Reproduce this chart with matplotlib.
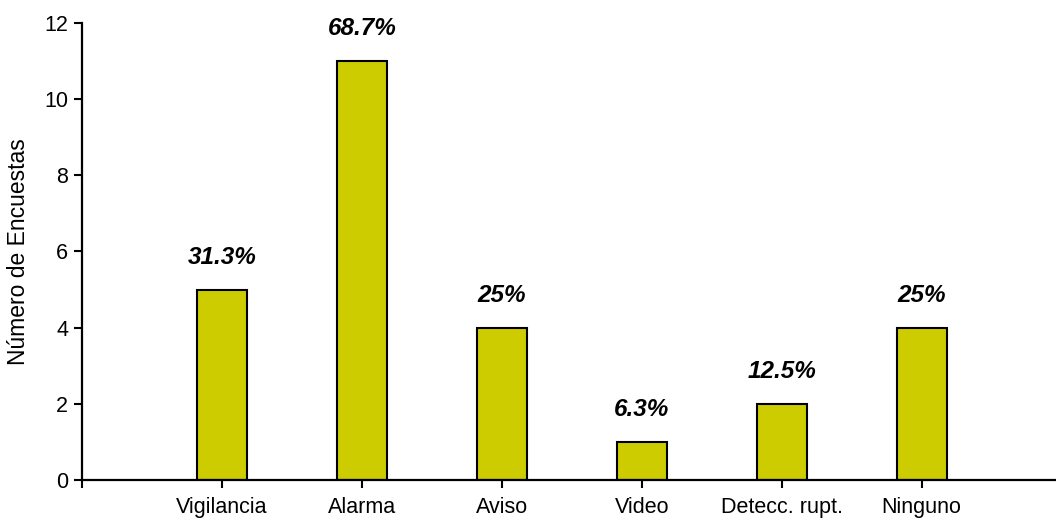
import matplotlib
matplotlib.use("Agg")
import matplotlib.pyplot as plt

categories = ["Vigilancia", "Alarma", "Aviso", "Video", "Detecc. rupt.", "Ninguno"]
counts = [5, 11, 4, 1, 2, 4]
pct_labels = ["31.3%", "68.7%", "25%", "6.3%", "12.5%", "25%"]
y_ticks = [0, 2, 4, 6, 8, 10, 12]

plt.rcParams['font.family'] = ['Liberation Sans', 'DejaVu Sans']

fig = plt.figure(figsize=(10.56, 5.18), dpi=100)
ax = fig.add_axes([0.0777, 0.0734, 0.9223, 0.8822])

x = list(range(len(categories)))
bars = ax.bar(x, counts, width=0.355, color='#CCCC00', edgecolor='black', linewidth=1.5, zorder=2)

for xi, c, lab in zip(x, counts, pct_labels):
    ax.annotate(lab, (xi, c), xytext=(0, 15), textcoords='offset points',
                ha='center', va='bottom', fontsize=17.5, fontweight='bold', fontstyle='italic')

ax.set_xlim(-1, 5.96)
ax.set_ylim(0, 12)
ax.set_yticks(y_ticks)
ax.set_yticklabels([str(v) for v in y_ticks], fontsize=15.5)
ax.set_xticks([-1] + x)
ax.set_xticklabels([''] + categories, fontsize=15.5)

ax.spines['top'].set_visible(False)
ax.spines['right'].set_visible(False)
for s in ('left', 'bottom'):
    ax.spines[s].set_linewidth(1.6)
ax.tick_params(axis='both', length=6, width=1.5, pad=4)
ax.tick_params(axis='x', pad=6)

ax.set_ylabel("Número de Encuestas", fontsize=16.5, labelpad=10)

fig.savefig("out.png", dpi=100)
